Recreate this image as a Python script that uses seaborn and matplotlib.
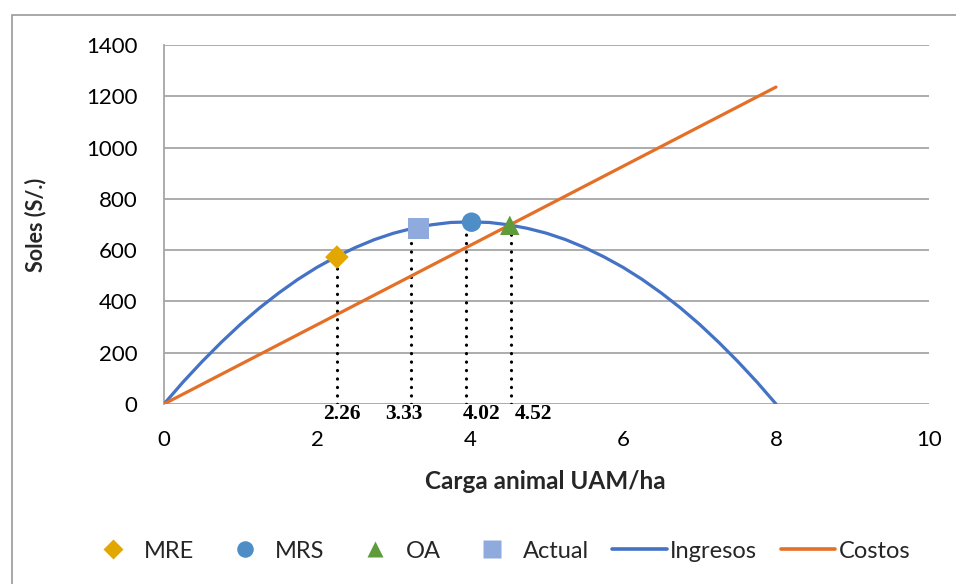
import numpy as np
import pandas as pd
import matplotlib
matplotlib.use("Agg")
import matplotlib.pyplot as plt
from matplotlib.lines import Line2D
from matplotlib.patches import Rectangle
import seaborn as sns

# ---------------- data ----------------
ingresos_x = [0, 0.25, 0.5, 0.75, 1, 1.25, 1.5, 1.75, 2, 2.25, 2.5, 2.75, 3, 3.25,
              3.5, 3.75, 4, 4.25, 4.5, 4.75, 5, 5.25, 5.5, 5.75, 6, 6.25, 6.5,
              6.75, 7, 7.25, 7.5, 7.75, 8]
ingresos_y = [0, 86, 166, 241, 311, 375, 433, 486, 533, 574, 610, 641, 666, 685,
              699, 708, 710, 708, 699, 685, 666, 641, 610, 574, 533, 486, 433,
              375, 311, 241, 166, 86, 0]
costos_x = [0, 8]
costos_y = [0, 1236]

point_names = ["MRE", "MRS", "OA", "Actual"]
point_x = [2.26, 4.02, 4.52, 3.33]
point_y = [573, 709, 697, 686]

drop_x = [2.26, 3.23, 3.95, 4.53]
drop_top = [573, 686, 686, 686]
drop_labels = ["2.26", "3.33", "4.02", "4.52"]

x_ticks = [0, 2, 4, 6, 8, 10]
y_ticks = [0, 200, 400, 600, 800, 1000, 1200, 1400]

# ---------------- styling ----------------
sns.set_theme(style="white")
plt.rcParams["font.family"] = ["Lato", "DejaVu Sans"]

W, H = 956, 584
fig = plt.figure(figsize=(W / 100, H / 100), dpi=100)
ax = fig.add_axes([164 / W, 1 - 404 / H, (929 - 164) / W, (404 - 45) / H])

c_blue = "#4472C4"
c_orange = "#E46F27"
marker_colors = {"MRE": "#E2A700", "MRS": "#4E8DC6", "OA": "#5E9B3B", "Actual": "#8FAADC"}
marker_shapes = {"MRE": "D", "MRS": "o", "OA": "^", "Actual": "s"}
marker_sizes = {"MRE": 12, "MRS": 14, "OA": 14, "Actual": 15}

df_ing = pd.DataFrame({"x": ingresos_x, "y": ingresos_y})
df_cos = pd.DataFrame({"x": costos_x, "y": costos_y})

sns.lineplot(data=df_ing, x="x", y="y", ax=ax, color=c_blue, lw=2.3, zorder=3,
             solid_capstyle="round")
sns.lineplot(data=df_cos, x="x", y="y", ax=ax, color=c_orange, lw=2.3, zorder=4,
             solid_capstyle="round")

# dotted drop lines
for dx, top in zip(drop_x, drop_top):
    ax.plot([dx, dx], [0, top], color="black", lw=2.3,
            linestyle=(0, (0.05, 2.6)), dash_capstyle="round", zorder=2)

# markers
df_pts = pd.DataFrame({"name": point_names, "x": point_x, "y": point_y})
for _, r in df_pts.iterrows():
    sns.scatterplot(x=[r.x], y=[r.y], ax=ax, marker=marker_shapes[r["name"]],
                    s=marker_sizes[r["name"]] ** 2, color=marker_colors[r["name"]],
                    edgecolor="none", zorder=5, legend=False)

# drop-line labels
label_left = [2.08, 2.89, 3.90, 4.59]
for lx, txt in zip(label_left, drop_labels):
    ax.text(lx, -40, txt, ha="left", va="center", fontsize=15.5, fontweight="bold",
            family="Liberation Serif", color="black", zorder=6)

ax.set_xlim(0, 10)
ax.set_ylim(0, 1400)
ax.set_xticks(x_ticks)
ax.set_yticks(y_ticks)
ax.set_xticklabels([str(v) for v in x_ticks])
ax.set_yticklabels([str(v) for v in y_ticks])
ax.tick_params(axis="both", length=0, labelsize=16, colors="black")
ax.tick_params(axis="y", pad=19)
ax.tick_params(axis="x", pad=19)

ax.grid(axis="y", color="#A6A6A6", lw=1.3)
ax.grid(axis="x", visible=False)
ax.set_axisbelow(True)
for s in ["top", "right", "bottom"]:
    ax.spines[s].set_visible(False)
ax.spines["left"].set_color("#A6A6A6")
ax.spines["left"].set_linewidth(1.3)

ax.set_xlabel("Carga animal UAM/ha", fontsize=17.5, fontweight="bold")
ax.set_ylabel("Soles (S/.)", fontsize=15.5, fontweight="bold")
ax.xaxis.set_label_coords(0.498, -0.2145)
ax.yaxis.set_label_coords(-0.168, 0.499)
ax.xaxis.label.set_va("center")
ax.yaxis.label.set_va("center")

# legend
handles = []
for n in ["MRE", "MRS", "OA", "Actual"]:
    handles.append(Line2D([], [], linestyle="none", marker=marker_shapes[n],
                          markersize=marker_sizes[n] * 0.85, color=marker_colors[n],
                          markeredgecolor="none", label=n))
handles.append(Line2D([], [], color=c_blue, lw=2.6, label="Ingresos"))
handles.append(Line2D([], [], color=c_orange, lw=2.6, label="Costos"))
fig.legend(handles=handles, loc="center", bbox_to_anchor=(498 / W, 1 - 551 / H),
           ncol=6, frameon=False, fontsize=17, handlelength=2.3,
           handletextpad=0.15, columnspacing=1.0)

# outer chart border
fig.patches.append(Rectangle((12 / W, -0.1), 2.0, 1 - 15 / H + 0.1, fill=False,
                             edgecolor="#9A9A9A", lw=1.2, transform=fig.transFigure,
                             figure=fig))

fig.savefig("out.png", dpi=100)
